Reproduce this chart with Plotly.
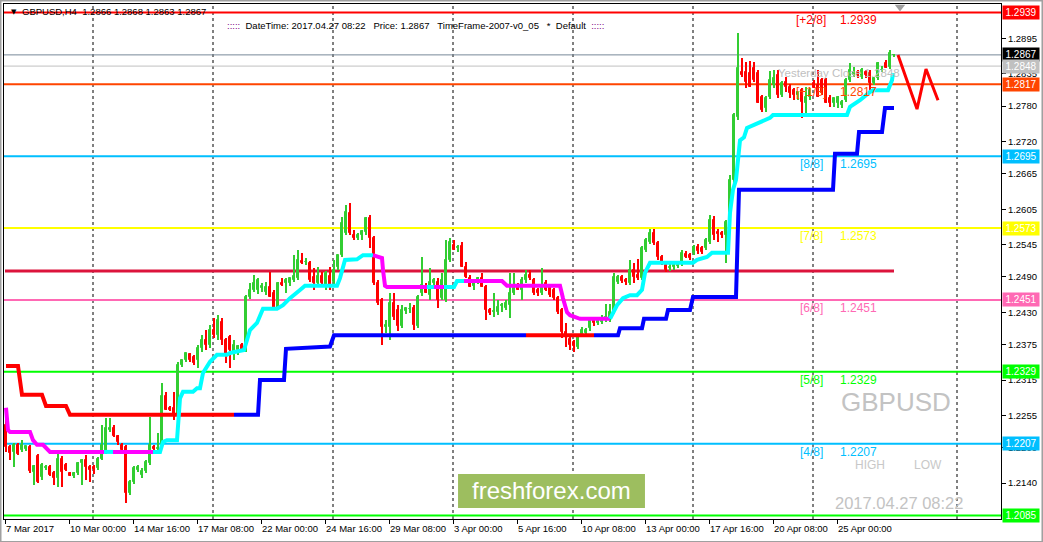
import plotly.graph_objects as go

# ---------------- data (GBPUSD H4) ----------------
bar_index = list(range(223))
open_px = [1.2239,1.2201,1.2193,1.2205,1.2196,1.2198,1.2201,1.2159,1.2186,1.2150,
 1.2166,1.2167,1.2157,1.2149,1.2181,1.2171,1.2157,1.2152,1.2157,1.2174,
 1.2179,1.2167,1.2167,1.2166,1.2181,1.2193,1.2230,1.2234,1.2220,1.2205,
 1.2201,1.2123,1.2142,1.2162,1.2154,1.2160,1.2174,1.2201,1.2198,1.2205,
 1.2288,1.2268,1.2268,1.2256,1.2340,1.2349,1.2359,1.2354,1.2349,1.2370,
 1.2383,1.2375,1.2400,1.2391,1.2413,1.2383,1.2388,1.2363,1.2366,1.2375,
 1.2366,1.2456,1.2468,1.2468,1.2471,1.2464,1.2473,1.2463,1.2437,1.2480,
 1.2480,1.2480,1.2485,1.2488,1.2517,1.2515,1.2514,1.2490,1.2480,1.2491,
 1.2476,1.2491,1.2481,1.2507,1.2527,1.2565,1.2598,1.2561,1.2556,1.2561,
 1.2566,1.2590,1.2556,1.2480,1.2451,1.2405,1.2405,1.2446,1.2434,1.2407,
 1.2432,1.2435,1.2437,1.2407,1.2463,1.2473,1.2459,1.2480,1.2481,1.2454,
 1.2451,1.2519,1.2544,1.2539,1.2542,1.2507,1.2488,1.2475,1.2483,1.2488,
 1.2473,1.2434,1.2430,1.2430,1.2441,1.2437,1.2442,1.2463,1.2476,1.2468,
 1.2485,1.2493,1.2485,1.2468,1.2463,1.2480,1.2473,1.2468,1.2454,1.2434,
 1.2396,1.2384,1.2380,1.2371,1.2391,1.2395,1.2403,1.2417,1.2412,1.2413,
 1.2418,1.2417,1.2430,1.2481,1.2490,1.2485,1.2480,1.2502,1.2493,1.2488,
 1.2536,1.2549,1.2564,1.2547,1.2524,1.2510,1.2505,1.2507,1.2509,1.2514,
 1.2529,1.2527,1.2531,1.2541,1.2539,1.2539,1.2549,1.2587,1.2566,1.2564,
 1.2561,1.2583,1.2655,1.2761,1.2838,1.2838,1.2836,1.2844,1.2836,1.2796,
 1.2777,1.2796,1.2816,1.2833,1.2799,1.2821,1.2812,1.2807,1.2799,1.2807,
 1.2785,1.2796,1.2819,1.2816,1.2824,1.2824,1.2794,1.2785,1.2785,1.2782,
 1.2790,1.2824,1.2833,1.2838,1.2829,1.2838,1.2836,1.2819,1.2828,1.2841,
 1.2853,1.2846,1.2866]
high_px = [1.2264,1.2205,1.2208,1.2208,1.2213,1.2203,1.2205,1.2171,1.2189,1.2174,
 1.2171,1.2171,1.2161,1.2190,1.2186,1.2174,1.2159,1.2159,1.2176,1.2181,
 1.2188,1.2171,1.2171,1.2184,1.2239,1.2250,1.2250,1.2239,1.2222,1.2208,
 1.2205,1.2145,1.2169,1.2171,1.2166,1.2179,1.2252,1.2205,1.2225,1.2310,
 1.2295,1.2271,1.2295,1.2345,1.2349,1.2361,1.2361,1.2357,1.2375,1.2391,
 1.2400,1.2408,1.2420,1.2425,1.2420,1.2386,1.2391,1.2383,1.2375,1.2378,
 1.2459,1.2480,1.2493,1.2488,1.2480,1.2481,1.2498,1.2468,1.2481,1.2488,
 1.2488,1.2488,1.2527,1.2536,1.2531,1.2522,1.2517,1.2505,1.2507,1.2498,
 1.2500,1.2507,1.2519,1.2527,1.2592,1.2612,1.2615,1.2570,1.2565,1.2570,
 1.2592,1.2595,1.2559,1.2485,1.2454,1.2417,1.2463,1.2463,1.2442,1.2442,
 1.2437,1.2446,1.2442,1.2459,1.2524,1.2480,1.2505,1.2488,1.2488,1.2497,
 1.2553,1.2557,1.2553,1.2544,1.2549,1.2515,1.2493,1.2485,1.2490,1.2497,
 1.2476,1.2437,1.2463,1.2451,1.2446,1.2451,1.2497,1.2497,1.2480,1.2490,
 1.2502,1.2502,1.2488,1.2471,1.2505,1.2485,1.2478,1.2471,1.2458,1.2437,
 1.2412,1.2390,1.2383,1.2391,1.2405,1.2403,1.2420,1.2422,1.2420,1.2425,
 1.2444,1.2444,1.2497,1.2493,1.2493,1.2488,1.2519,1.2514,1.2520,1.2542,
 1.2556,1.2571,1.2571,1.2551,1.2527,1.2515,1.2512,1.2515,1.2515,1.2536,
 1.2534,1.2530,1.2544,1.2546,1.2542,1.2556,1.2595,1.2594,1.2571,1.2568,
 1.2587,1.2663,1.2768,1.2904,1.2862,1.2855,1.2857,1.2855,1.2841,1.2799,
 1.2797,1.2840,1.2841,1.2841,1.2823,1.2829,1.2817,1.2810,1.2804,1.2810,
 1.2812,1.2810,1.2824,1.2841,1.2828,1.2828,1.2799,1.2794,1.2797,1.2790,
 1.2828,1.2853,1.2846,1.2841,1.2844,1.2841,1.2841,1.2828,1.2855,1.2848,
 1.2858,1.2875,1.2868]
low_px = [1.2193,1.2179,1.2167,1.2188,1.2193,1.2195,1.2157,1.2137,1.2141,1.2145,
 1.2162,1.2152,1.2137,1.2134,1.2134,1.2160,1.2152,1.2149,1.2154,1.2137,
 1.2145,1.2142,1.2156,1.2162,1.2179,1.2190,1.2227,1.2218,1.2205,1.2193,
 1.2106,1.2120,1.2139,1.2159,1.2149,1.2157,1.2171,1.2196,1.2195,1.2201,
 1.2264,1.2262,1.2247,1.2252,1.2337,1.2346,1.2346,1.2340,1.2336,1.2363,
 1.2366,1.2370,1.2386,1.2383,1.2375,1.2344,1.2336,1.2349,1.2358,1.2363,
 1.2363,1.2452,1.2464,1.2461,1.2464,1.2459,1.2456,1.2434,1.2434,1.2475,
 1.2463,1.2475,1.2481,1.2485,1.2512,1.2510,1.2481,1.2468,1.2476,1.2478,
 1.2468,1.2468,1.2476,1.2502,1.2524,1.2561,1.2561,1.2553,1.2553,1.2553,
 1.2561,1.2539,1.2476,1.2442,1.2375,1.2395,1.2383,1.2417,1.2398,1.2403,
 1.2427,1.2429,1.2400,1.2403,1.2458,1.2463,1.2451,1.2475,1.2437,1.2451,
 1.2447,1.2515,1.2536,1.2532,1.2507,1.2488,1.2473,1.2468,1.2478,1.2473,
 1.2417,1.2425,1.2422,1.2425,1.2430,1.2434,1.2420,1.2459,1.2468,1.2451,
 1.2480,1.2485,1.2459,1.2458,1.2459,1.2466,1.2456,1.2451,1.2427,1.2386,
 1.2371,1.2366,1.2363,1.2368,1.2388,1.2390,1.2398,1.2407,1.2408,1.2410,
 1.2413,1.2413,1.2427,1.2478,1.2480,1.2476,1.2476,1.2480,1.2485,1.2485,
 1.2532,1.2546,1.2544,1.2519,1.2510,1.2498,1.2500,1.2502,1.2505,1.2509,
 1.2522,1.2519,1.2527,1.2529,1.2529,1.2536,1.2546,1.2553,1.2549,1.2556,
 1.2514,1.2578,1.2650,1.2756,1.2829,1.2811,1.2812,1.2821,1.2785,1.2770,
 1.2770,1.2792,1.2811,1.2794,1.2795,1.2804,1.2794,1.2790,1.2790,1.2760,
 1.2768,1.2790,1.2811,1.2796,1.2799,1.2785,1.2779,1.2779,1.2777,1.2777,
 1.2787,1.2821,1.2829,1.2828,1.2826,1.2828,1.2807,1.2816,1.2824,1.2838,
 1.2845,1.2843,1.2863]
close_px = [1.2201,1.2191,1.2205,1.2190,1.2205,1.2203,1.2160,1.2169,1.2142,1.2171,
 1.2167,1.2154,1.2149,1.2181,1.2159,1.2162,1.2152,1.2157,1.2174,1.2179,
 1.2167,1.2162,1.2164,1.2181,1.2205,1.2234,1.2234,1.2220,1.2210,1.2196,
 1.2123,1.2142,1.2166,1.2167,1.2160,1.2176,1.2205,1.2198,1.2200,1.2288,
 1.2264,1.2264,1.2256,1.2340,1.2349,1.2361,1.2349,1.2344,1.2370,1.2383,
 1.2375,1.2400,1.2391,1.2417,1.2383,1.2358,1.2366,1.2375,1.2373,1.2366,
 1.2456,1.2468,1.2480,1.2485,1.2475,1.2473,1.2456,1.2437,1.2480,1.2476,
 1.2485,1.2488,1.2491,1.2519,1.2514,1.2516,1.2485,1.2480,1.2491,1.2480,
 1.2497,1.2476,1.2502,1.2527,1.2582,1.2600,1.2565,1.2556,1.2561,1.2568,
 1.2590,1.2556,1.2480,1.2446,1.2405,1.2408,1.2446,1.2422,1.2407,1.2434,
 1.2437,1.2436,1.2408,1.2456,1.2476,1.2463,1.2481,1.2485,1.2451,1.2485,
 1.2519,1.2549,1.2536,1.2541,1.2507,1.2490,1.2473,1.2480,1.2488,1.2473,
 1.2434,1.2429,1.2432,1.2439,1.2442,1.2446,1.2463,1.2473,1.2468,1.2485,
 1.2493,1.2488,1.2463,1.2463,1.2473,1.2468,1.2459,1.2454,1.2430,1.2396,
 1.2388,1.2375,1.2373,1.2388,1.2400,1.2400,1.2417,1.2412,1.2415,1.2420,
 1.2422,1.2430,1.2490,1.2490,1.2483,1.2481,1.2502,1.2490,1.2488,1.2539,
 1.2553,1.2564,1.2547,1.2524,1.2515,1.2502,1.2507,1.2510,1.2510,1.2531,
 1.2524,1.2522,1.2541,1.2534,1.2532,1.2553,1.2587,1.2561,1.2563,1.2561,
 1.2583,1.2655,1.2765,1.2845,1.2833,1.2821,1.2812,1.2824,1.2785,1.2773,
 1.2794,1.2824,1.2828,1.2799,1.2819,1.2812,1.2802,1.2799,1.2804,1.2787,
 1.2796,1.2807,1.2811,1.2796,1.2802,1.2785,1.2785,1.2794,1.2796,1.2787,
 1.2824,1.2841,1.2838,1.2833,1.2841,1.2833,1.2819,1.2828,1.2853,1.2842,
 1.2845,1.2870,1.2867]

# lower trailing line (red / blue pieces): bar index, price
lo_red1_x = [0, 3, 4, 9, 10, 15, 16, 57]
lo_red1_y = [1.2339, 1.2339, 1.2290, 1.2290, 1.2271, 1.2271, 1.2256, 1.2256]
lo_blue1_x = [57, 63, 63.5, 69.5, 70, 81, 82, 130]
lo_blue1_y = [1.2256, 1.2256, 1.2315, 1.2315, 1.2368, 1.2372, 1.2391, 1.2391]
lo_red2_x = [130, 147]
lo_red2_y = [1.2391, 1.2391]
lo_blue2_x = [147, 153, 153.5, 159, 159.5, 165, 165.5, 171, 171.75, 182.5, 183.25, 206.75,
              207.25, 212.75, 213.25, 219, 219.75, 222]
lo_blue2_y = [1.2391, 1.2391, 1.2403, 1.2403, 1.2419, 1.2419, 1.2434, 1.2434, 1.2456, 1.2456,
              1.2638, 1.2638, 1.2699, 1.2699, 1.2736, 1.2736, 1.2777, 1.2777]

# upper trailing line (magenta / cyan pieces)
up_mag1_x = [0, 0.5, 1, 6, 6.75, 7.75, 9.25, 10.5, 11, 24.5]
up_mag1_y = [1.2268, 1.2230, 1.2227, 1.2227, 1.2213, 1.2205, 1.2205, 1.2196, 1.2193, 1.2193]
up_cyan1_x = [24.5, 26.75]
up_cyan1_y = [1.2193, 1.2193]
up_mag2_x = [26.75, 36.75]
up_mag2_y = [1.2193, 1.2193]
up_cyan2_x = [36.75, 38.5, 39.25, 40.25, 42.75, 43.5, 44.25, 46.75, 47.75, 48.5, 49.25, 51,
              52.75, 55.25, 56, 59.5, 61, 62.75, 64.25, 67.75, 69.25, 71, 73.5, 74.75, 82.75,
              83.5, 84.75, 87.75, 89.25, 91.75]
up_cyan2_y = [1.2193, 1.2193, 1.2210, 1.2213, 1.2213, 1.2284, 1.2295, 1.2295, 1.2301, 1.2301,
              1.2327, 1.2346, 1.2358, 1.2358, 1.2361, 1.2366, 1.2400, 1.2412, 1.2436, 1.2436,
              1.2442, 1.2454, 1.2468, 1.2475, 1.2475, 1.2488, 1.2519, 1.2520, 1.2527, 1.2527]
up_mag3_x = [91.75, 94, 94.25, 94.75, 95.25, 105.25]
up_mag3_y = [1.2527, 1.2522, 1.2502, 1.2475, 1.2473, 1.2473]
up_cyan3_x = [105.25, 107]
up_cyan3_y = [1.2473, 1.2473]
up_mag4_x = [107, 109.5]
up_mag4_y = [1.2473, 1.2473]
up_cyan4_x = [109.5, 112, 112.75, 114.5]
up_cyan4_y = [1.2473, 1.2473, 1.2483, 1.2483]
up_mag5_x = [114.5, 124, 125.25, 138.5, 139.25, 140.25, 141, 142.75, 143.5, 151]
up_mag5_y = [1.2483, 1.2483, 1.2475, 1.2475, 1.2454, 1.2430, 1.2425, 1.2420, 1.2419, 1.2419]
up_cyan5_x = [151, 152.75, 154.25, 156, 157.75, 159, 159.75, 161, 171.75, 172.75, 175.25, 176.5,
              180.5, 181, 181.75, 182.5, 183.5, 184.5, 185.25, 191, 191.75, 210.25, 211, 213.5,
              216, 216.75, 220.5, 221.5, 221.75]
up_cyan5_y = [1.2419, 1.2442, 1.2454, 1.2459, 1.2459, 1.2468, 1.2497, 1.2514, 1.2514, 1.2519,
              1.2524, 1.2531, 1.2531, 1.2599, 1.2638, 1.2655, 1.2722, 1.2727, 1.2743, 1.2760,
              1.2765, 1.2765, 1.2779, 1.2790, 1.2804, 1.2807, 1.2807, 1.2824, 1.2836]

# Murrey math levels
mm_prices = [1.2939, 1.2817, 1.2695, 1.2573, 1.2451, 1.2329, 1.2207, 1.2085]
mm_names = ['[+2/8]', '[+1/8]', '[8/8]', '[7/8]', '[6/8]', '[5/8]', '[4/8]', '[3/8]']
mm_colors = ['#FF0000', '#FF4500', '#00BFFF', '#FFFF00', '#FF69B4', '#00FF00', '#00BFFF', '#00FF00']
pivot_price = 1.2500
bid_price = 1.2867
yclose_price = 1.2848

# forecast zigzag
zz_x = [223, 227.75, 230, 233]
zz_y = [1.2867, 1.2775, 1.2843, 1.2790]

# axes
x_tick_bars = [0, 16, 32, 48, 64, 80, 96, 112, 128, 144, 160, 176, 192, 208]
x_tick_text = ['7 Mar 2017', '10 Mar 00:00', '14 Mar 16:00', '17 Mar 08:00', '22 Mar 00:00',
               '24 Mar 16:00', '29 Mar 08:00', '3 Apr 00:00', '5 Apr 16:00', '10 Apr 08:00',
               '13 Apr 00:00', '17 Apr 16:00', '20 Apr 08:00', '25 Apr 00:00']
y_tick_vals = [1.2895, 1.2835, 1.2780, 1.2720, 1.2665, 1.2605, 1.2545, 1.2490, 1.2430, 1.2375,
               1.2315, 1.2255, 1.2200, 1.2140]
grid_bars = [21.75, 51.75, 81.75, 111.75, 141.75, 171.75, 201.75, 237.75]

n = len(bar_index)
assert all(len(a) == n for a in (open_px, high_px, low_px, close_px))

# ---------------- figure ----------------
FONT = 'Liberation Sans, Arial, sans-serif'
BULL = '#32CD32'
BEAR = '#FF0000'
cols = [BULL if c >= o else BEAR for o, c in zip(open_px, close_px)]

fig = go.Figure()

# wicks
fig.add_trace(go.Bar(x=bar_index, y=[h - l for h, l in zip(high_px, low_px)], base=low_px,
                     width=0.25, marker=dict(color=cols, line=dict(width=0)), hoverinfo='skip'))
# bodies
fig.add_trace(go.Bar(x=bar_index, y=[abs(c - o) for o, c in zip(open_px, close_px)],
                     base=[min(o, c) for o, c in zip(open_px, close_px)],
                     width=0.5, marker=dict(color=cols, line=dict(color=cols, width=1)),
                     hoverinfo='skip'))

def add_line(xs, ys, color, width=4):
    fig.add_trace(go.Scatter(x=xs, y=ys, mode='lines', line=dict(color=color, width=width),
                             hoverinfo='skip'))

add_line(lo_red1_x, lo_red1_y, '#FF0000')
add_line(lo_blue1_x, lo_blue1_y, '#0000FF')
add_line(lo_red2_x, lo_red2_y, '#FF0000')
add_line(lo_blue2_x, lo_blue2_y, '#0000FF')
add_line(up_mag1_x, up_mag1_y, '#FF00FF')
add_line(up_cyan1_x, up_cyan1_y, '#00FFFF')
add_line(up_mag2_x, up_mag2_y, '#FF00FF')
add_line(up_cyan2_x, up_cyan2_y, '#00FFFF')
add_line(up_mag3_x, up_mag3_y, '#FF00FF')
add_line(up_cyan3_x, up_cyan3_y, '#00FFFF')
add_line(up_mag4_x, up_mag4_y, '#FF00FF')
add_line(up_cyan4_x, up_cyan4_y, '#00FFFF')
add_line(up_mag5_x, up_mag5_y, '#FF00FF')
add_line(up_cyan5_x, up_cyan5_y, '#00FFFF')
add_line(zz_x, zz_y, '#FF0000', 3)

# chart shift marker
fig.add_trace(go.Scatter(x=[223.5], y=[1.29485], mode='markers', cliponaxis=False,
                         marker=dict(symbol='triangle-down', size=9, color='#A0A0A0'),
                         hoverinfo='skip'))

shapes = []
for gx in grid_bars:
    shapes.append(dict(type='line', xref='x', yref='paper', x0=gx, x1=gx, y0=0, y1=1,
                       line=dict(color='black', width=1, dash='3px,3px'), layer='below'))
for p, c in zip(mm_prices, mm_colors):
    shapes.append(dict(type='line', xref='paper', yref='y', x0=0, x1=1, y0=p, y1=p,
                       line=dict(color=c, width=2), layer='below'))
shapes.append(dict(type='line', xref='x', yref='y', x0=-0.25, x1=222, y0=pivot_price, y1=pivot_price,
                   line=dict(color='#DC143C', width=3), layer='below'))
shapes.append(dict(type='line', xref='paper', yref='y', x0=0, x1=1, y0=bid_price, y1=bid_price,
                   line=dict(color='#778899', width=1), layer='below'))
shapes.append(dict(type='line', xref='paper', yref='y', x0=0, x1=1, y0=yclose_price, y1=yclose_price,
                   line=dict(color='#C0C0C0', width=1), layer='below'))
# freshforex badge
shapes.append(dict(type='rect', xref='paper', yref='paper', x0=0.4554, x1=0.6429, y0=0.0214, y1=0.0874,
                   fillcolor='#9DBE5F', line=dict(width=0), layer='above'))
# outer window border
shapes.append(dict(type='rect', xref='paper', yref='paper', x0=-0.0035, x1=1.0416, y0=-0.0446, y1=1.0068,
                   fillcolor='rgba(0,0,0,0)', line=dict(color='#A0A0A0', width=2), layer='above'))

ann = []
# Murrey labels in chart
for p, nm, c in list(zip(mm_prices, mm_names, mm_colors))[:7]:
    ann.append(dict(x=201.25, y=p, xref='x', yref='y', text=nm, showarrow=False, yshift=-8,
                    xanchor='center', yanchor='middle', font=dict(family=FONT, size=12, color=c)))
    ann.append(dict(x=208.0, y=p, xref='x', yref='y', text=f'{p:.4f}', showarrow=False, yshift=-8,
                    xanchor='left', yanchor='middle', font=dict(family=FONT, size=12, color=c)))
ann.append(dict(x=192.5, y=yclose_price, xref='x', yref='y', text=f'Yesterday Close {yclose_price:.4f}',
                showarrow=False, yshift=-7, xanchor='left', yanchor='middle',
                font=dict(family=FONT, size=11.5, color='#C0C0C0')))

# right-axis price boxes
box_prices = [1.2939, bid_price, yclose_price, 1.2817, 1.2695, 1.2573, 1.2451, 1.2329, 1.2207, 1.2085]
box_colors = ['#FF0000', '#000000', '#C0C0C0', '#FF4500', '#00BFFF', '#FFFF00', '#FF69B4',
              '#00FF00', '#00BFFF', '#00FF00']
for p, c in zip(box_prices, box_colors):
    ann.append(dict(x=1.0015, y=p, xref='paper', yref='y', text=f'{p:.4f}', showarrow=False,
                    xanchor='left', yanchor='middle', bgcolor=c, width=34, height=11, borderpad=1,
                    align='center', font=dict(family=FONT, size=10, color='white')))

# bottom time labels (left aligned at tick)
for b, t in zip(x_tick_bars, x_tick_text):
    ann.append(dict(x=b - 0.5, y=-0.0175, xref='x', yref='paper', text=t, showarrow=False,
                    xanchor='left', yanchor='middle', font=dict(family=FONT, size=9.5, color='black')))

# header
ann.append(dict(x=0.005, y=0.9845, xref='paper', yref='paper', text='\u25BC', showarrow=False,
                xanchor='left', yanchor='middle', font=dict(family='DejaVu Sans', size=7, color='black')))
ann.append(dict(x=0.0165, y=0.9845, xref='paper', yref='paper',
                text='GBPUSD,H4\u00a0\u00a01.2866 1.2868 1.2863 1.2867', showarrow=False,
                xanchor='left', yanchor='middle', font=dict(family=FONT, size=9.5, color='black')))
dots = "<span style='color:#800080'>:::::</span>"
ann.append(dict(x=0.2215, y=0.9573, xref='paper', yref='paper',
                text=dots + '\u00a0\u00a0DateTime: 2017.04.27 08:22\u00a0\u00a0\u00a0Price: 1.2867\u00a0\u00a0\u00a0'
                     'TimeFrame-2007-v0_05\u00a0\u00a0\u00a0*\u00a0\u00a0Default\u00a0\u00a0' + dots,
                showarrow=False, xanchor='left', yanchor='middle',
                font=dict(family=FONT, size=9.5, color='black')))

# watermark texts
ann.append(dict(x=222.5, y=1.2278, xref='x', yref='y', text='GBPUSD', showarrow=False,
                xanchor='center', yanchor='middle', font=dict(family=FONT, size=26, color='#C3C3C3')))
ann.append(dict(x=216, y=1.2171, xref='x', yref='y', text='HIGH', showarrow=False,
                xanchor='center', yanchor='middle', font=dict(family=FONT, size=12, color='#C8C8C8')))
ann.append(dict(x=230.5, y=1.2171, xref='x', yref='y', text='LOW', showarrow=False,
                xanchor='center', yanchor='middle', font=dict(family=FONT, size=12, color='#C8C8C8')))
ann.append(dict(x=223.25, y=1.2106, xref='x', yref='y', text='2017.04.27 08:22', showarrow=False,
                xanchor='center', yanchor='middle', font=dict(family=FONT, size=16.5, color='#C3C3C3')))
ann.append(dict(x=0.5491, y=0.0544, xref='paper', yref='paper', text='freshforex.com', showarrow=False,
                xanchor='center', yanchor='middle', font=dict(family=FONT, size=24, color='white')))

fig.update_layout(
    width=1043, height=542,
    margin=dict(l=4, r=42, t=4, b=23),
    paper_bgcolor='white', plot_bgcolor='white',
    showlegend=False, barmode='overlay', bargap=0,
    shapes=shapes, annotations=ann,
    xaxis=dict(range=[-0.5, 248.75], showgrid=False, zeroline=False, showline=True,
               linecolor='black', linewidth=1, mirror=True,
               tickmode='array', tickvals=[b - 0.25 for b in x_tick_bars], showticklabels=False,
               ticks='outside', ticklen=4, tickcolor='black', fixedrange=True),
    yaxis=dict(range=[1.20791, 1.29534], side='right', showgrid=False, zeroline=False,
               showline=True, linecolor='black', linewidth=1, mirror=True,
               tickmode='array', tickvals=y_tick_vals, ticktext=[f'{v:.4f}' for v in y_tick_vals],
               ticks='outside', ticklen=4, tickcolor='black',
               tickfont=dict(family=FONT, size=9.5, color='black'), fixedrange=True),
)

fig.write_html('out.html', config={'displayModeBar': False},
               post_script="document.body.style.margin='0px';document.body.style.overflow='hidden';")
